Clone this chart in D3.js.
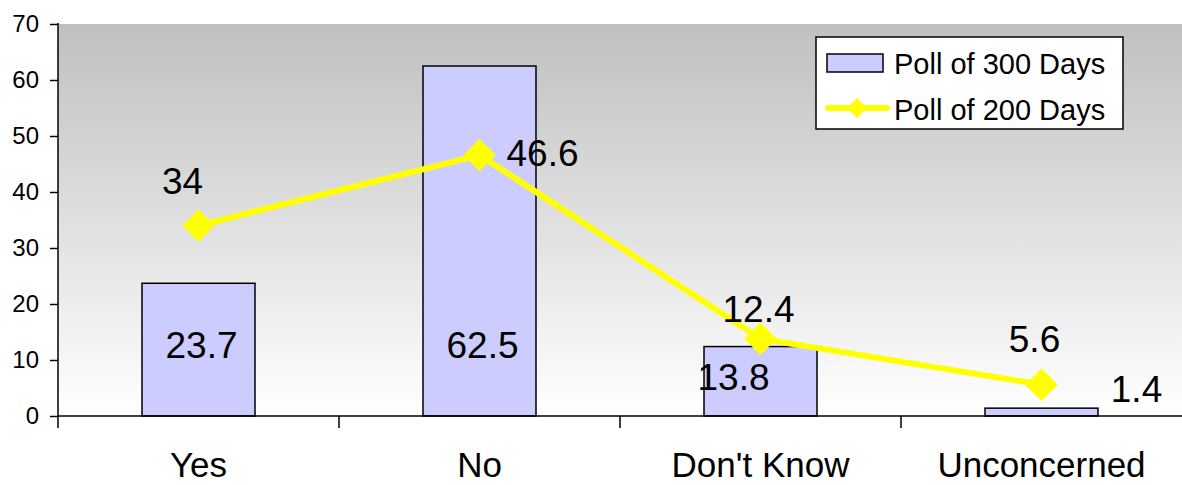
<!DOCTYPE html>
<html><head><meta charset="utf-8">
<script src="https://cdn.jsdelivr.net/npm/d3@7"></script>
<style>html,body{margin:0;padding:0;background:#fff;}svg{display:block;font-family:"Liberation Sans",Arial,sans-serif;}</style>
</head><body>
<svg id="chart" width="1182" height="485"></svg>
<script>
// ---- data ----
const categories = ["Yes", "No", "Don't Know", "Unconcerned"];
const poll300 = [23.7, 62.5, 12.4, 1.4];
const poll200 = [34, 46.6, 13.8, 5.6];
const poll300Labels = ["23.7", "62.5", "13.8", "1.4"];
const poll200Labels = ["34", "46.6", "12.4", "5.6"];
const yTicks = [0, 10, 20, 30, 40, 50, 60, 70];
const seriesNames = ["Poll of 300 Days", "Poll of 200 Days"];

// ---- layout ----
const plotL = 58, plotR = 1182, plotT = 24, plotB = 416;
const svg = d3.select("#chart");
const x = d3.scaleBand().domain(categories).range([plotL, plotR]).padding(0);
const y = d3.scaleLinear().domain([0, 70]).range([plotB, plotT]);
const barW = 113;

const defs = svg.append("defs");
const grad = defs.append("linearGradient").attr("id", "bg").attr("x1", 0).attr("y1", 0).attr("x2", 0).attr("y2", 1);
grad.append("stop").attr("offset", "0%").attr("stop-color", "#c0c0c0");
grad.append("stop").attr("offset", "100%").attr("stop-color", "#ffffff");

svg.append("rect").attr("x", plotL).attr("y", plotT).attr("width", plotR - plotL).attr("height", plotB - plotT).attr("fill", "url(#bg)");

// bars
svg.selectAll("rect.bar").data(poll300).join("rect").attr("class", "bar")
  .attr("x", (d, i) => x(categories[i]) + x.bandwidth() / 2 - barW / 2)
  .attr("y", d => y(d)).attr("width", barW).attr("height", d => y(0) - y(d))
  .attr("fill", "#ccccff").attr("stroke", "#000").attr("stroke-width", 1.5);

// axes
const yAxis = d3.axisLeft(y).tickValues(yTicks).tickSize(8).tickPadding(11);
const gy = svg.append("g").attr("transform", `translate(${plotL},0)`).call(yAxis);
gy.select(".domain").remove();
gy.selectAll(".tick line").attr("stroke", "#000").attr("stroke-width", 1.5);
gy.selectAll(".tick text").attr("font-size", 24).attr("fill", "#000").attr("font-family", "Liberation Sans, Arial, sans-serif");
svg.append("line").attr("x1", plotL).attr("x2", plotL).attr("y1", plotT - 1).attr("y2", plotB + 12).attr("stroke", "#000").attr("stroke-width", 1.5);

svg.append("line").attr("x1", plotL).attr("x2", plotR).attr("y1", plotB).attr("y2", plotB).attr("stroke", "#000").attr("stroke-width", 1.5);
categories.slice(1).forEach(c => {
  svg.append("line").attr("x1", x(c)).attr("x2", x(c)).attr("y1", plotB).attr("y2", plotB + 12).attr("stroke", "#000").attr("stroke-width", 1.5);
});
svg.selectAll("text.cat").data(categories).join("text").attr("class", "cat")
  .attr("x", d => x(d) + x.bandwidth() / 2).attr("y", 477)
  .attr("text-anchor", "middle").attr("font-size", 35).attr("fill", "#000").text(d => d);

// line
const cx = i => x(categories[i]) + x.bandwidth() / 2;
const line = d3.line().x((d, i) => cx(i)).y(d => y(d));
svg.append("path").datum(poll200).attr("d", line).attr("fill", "none").attr("stroke", "#ffff00").attr("stroke-width", 6).attr("stroke-linejoin", "round");
svg.selectAll("path.mk").data(poll200).join("path").attr("class", "mk")
  .attr("d", d3.symbol().type(d3.symbolSquare).size(23 * 23)())
  .attr("transform", (d, i) => `translate(${cx(i)},${y(d)}) rotate(45)`)
  .attr("fill", "#ffff00");

// data labels (offsets relative to mark)
const barLabelOff = [[3, 0], [3, 0], [-27, 43], [95, -6]];
const lineLabelOff = [[-16, -32], [63, 11], [-2, -17], [-7, -33]];
svg.selectAll("text.bl").data(poll300Labels).join("text").attr("class", "bl")
  .attr("x", (d, i) => cx(i) + barLabelOff[i][0])
  .attr("y", (d, i) => (i < 2 ? y(0) - 58 : y(poll300[i]) + barLabelOff[i][1]))
  .attr("text-anchor", "middle").attr("font-size", 37).attr("fill", "#000").text(d => d);
svg.selectAll("text.ll").data(poll200Labels).join("text").attr("class", "ll")
  .attr("x", (d, i) => cx(i) + lineLabelOff[i][0])
  .attr("y", (d, i) => y(poll200[i]) + lineLabelOff[i][1])
  .attr("text-anchor", "middle").attr("font-size", 37).attr("fill", "#000").text(d => d);

// legend
const lg = svg.append("g");
lg.append("rect").attr("x", 816).attr("y", 37).attr("width", 307).attr("height", 92).attr("fill", "#fff").attr("stroke", "#000").attr("stroke-width", 1.5);
lg.append("rect").attr("x", 827).attr("y", 54).attr("width", 56).attr("height", 18).attr("fill", "#ccccff").attr("stroke", "#000").attr("stroke-width", 1.5);
lg.append("line").attr("x1", 828).attr("x2", 887).attr("y1", 108).attr("y2", 108).attr("stroke", "#ffff00").attr("stroke-width", 6).attr("stroke-linecap", "round");
lg.append("path").attr("d", d3.symbol().type(d3.symbolSquare).size(14 * 14)()).attr("transform", "translate(857,108) rotate(45)").attr("fill", "#ffff00");
lg.selectAll("text").data(seriesNames).join("text")
  .attr("x", 894).attr("y", (d, i) => 74 + i * 46)
  .attr("font-size", 29).attr("fill", "#000").text(d => d);
</script>
</body></html>
